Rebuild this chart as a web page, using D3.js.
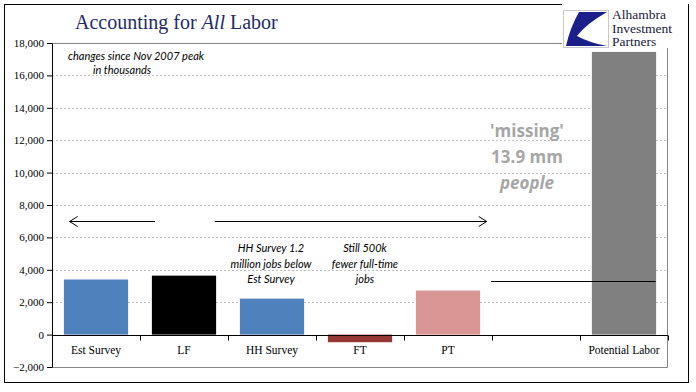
<!DOCTYPE html>
<html>
<head>
<meta charset="utf-8">
<script src="https://cdn.jsdelivr.net/npm/d3@7"></script>
<style>
  body { margin: 0; background: #fff; }
  svg text { font-family: "Liberation Serif", serif; }
  .note { font-family: Lato, "Open Sans", sans-serif; font-style: italic; font-size: 11px; fill: #000; }
  .missing { font-family: "Open Sans", Lato, sans-serif; font-weight: bold; font-size: 17px; fill: #a6a6a6; }
</style>
</head>
<body>
<div id="chart-area"></div>
<script>
const categories = ['Est Survey', 'LF', 'HH Survey', 'FT', 'PT', '', 'Potential Labor'];
const values = [3400, 3640, 2220, -470, 2720, null, 17450];
const colors = ['#4f81bd', '#000000', '#4f81bd', '#953735', '#d99694', '#fff', '#808080'];
const yTicks = [-2000, 0, 2000, 4000, 6000, 8000, 10000, 12000, 14000, 16000, 18000];
const missingLevel = 3300;
const arrowLevel = 7000;

const chartSize = { width: 696, height: 392 };
const margin = { left: 52, right: 28, top: 43, bottom: 25 };
const width = chartSize.width - (margin.left + margin.right);
const height = chartSize.height - (margin.top + margin.bottom);

const svg = d3.select('#chart-area').append('svg')
  .attr('width', chartSize.width)
  .attr('height', chartSize.height);

svg.append('rect')
  .attr('x', 4.5).attr('y', 4.5)
  .attr('width', 684).attr('height', 378)
  .attr('fill', 'none').attr('stroke', '#000');

const g = svg.append('g').attr('transform', `translate(${margin.left},${margin.top})`);

const y = d3.scaleLinear().domain([-2000, 18000]).range([height, 0]);
const x = d3.scaleBand().domain(categories).range([0, width])
  .paddingInner(0.27).paddingOuter(0.135);
const xi = d3.scaleLinear().domain([0, categories.length]).range([0, width]);

// gridlines
g.selectAll('.grid').data(yTicks.filter(t => t > -2000 && t < 18000 && t !== 0)).enter()
  .append('line')
  .attr('x1', 0).attr('x2', width)
  .attr('y1', d => Math.round(y(d)) + 0.5).attr('y2', d => Math.round(y(d)) + 0.5)
  .attr('stroke', '#c0c0c0').attr('stroke-dasharray', '2,2');

// plot border (top, right, bottom)
g.append('path')
  .attr('d', `M0,${Math.round(y(18000)) + 0.5}H${width - 0.5}V${Math.round(y(-2000)) + 0.5}H0`)
  .attr('fill', 'none').attr('stroke', '#868686');

// bars
g.selectAll('.bar').data(categories.map((c, i) => ({ c, v: values[i], col: colors[i] })).filter(d => d.v !== null))
  .enter().append('rect')
  .attr('x', d => x(d.c))
  .attr('width', x.bandwidth())
  .attr('y', d => y(Math.max(0, d.v)))
  .attr('height', d => Math.abs(y(d.v) - y(0)))
  .attr('fill', d => d.col);

// y axis
const yAxis = d3.axisLeft(y).tickValues(yTicks).tickSize(5).tickSizeOuter(0)
  .tickFormat(d3.format(','));
const ya = g.append('g').call(yAxis);
ya.select('.domain').attr('stroke', '#000');
ya.selectAll('text').attr('font-family', '"Liberation Serif", serif').attr('font-size', 11).attr('fill', '#000').attr('x', -8);
ya.selectAll('.tick line').attr('stroke', '#000');

// x axis at zero
const xa = g.append('g').attr('transform', `translate(0,${Math.round(y(0)) + 0.5})`);
xa.append('line').attr('x1', 0).attr('x2', width).attr('stroke', '#000');
xa.selectAll('.tk').data(d3.range(1, categories.length + 1)).enter().append('line')
  .attr('x1', d => Math.round(xi(d)) + 0.5).attr('x2', d => Math.round(xi(d)) + 0.5)
  .attr('y1', 0).attr('y2', 5).attr('stroke', '#000');
xa.selectAll('.lbl').data(categories).enter().append('text')
  .attr('x', d => x(d) + x.bandwidth() / 2)
  .attr('y', 18)
  .attr('text-anchor', 'middle')
  .attr('font-size', 11.5)
  .text(d => d);

// arrows
const arrow = (x1, x2, v, dir) => {
  const yy = Math.round(y(v)) + 0.5;
  g.append('line').attr('x1', xi(x1)).attr('x2', xi(x2)).attr('y1', yy).attr('y2', yy).attr('stroke', '#000');
  const tip = dir < 0 ? xi(x1) : xi(x2);
  g.append('path')
    .attr('d', `M${tip - dir * 8},${yy - 5}L${tip},${yy}L${tip - dir * 8},${yy + 5}`)
    .attr('fill', 'none').attr('stroke', '#000');
};
arrow(0.2, 1.17, arrowLevel, -1);
arrow(1.85, 4.94, arrowLevel, 1);

// missing baseline
g.append('line')
  .attr('x1', xi(4.99)).attr('x2', xi(6.86))
  .attr('y1', Math.round(y(missingLevel)) + 0.5).attr('y2', Math.round(y(missingLevel)) + 0.5)
  .attr('stroke', '#000');

// notes
const note = (lines, cx, y0, cls, dy) => {
  lines.forEach((t, i) => {
    svg.append('text').attr('class', cls).attr('x', cx).attr('y', y0 + i * dy)
      .attr('text-anchor', 'middle').text(t);
  });
};
svg.append('text').attr('class', 'note').attr('x', 68).attr('y', 60).attr('font-size', 10.5).text('changes since Nov 2007 peak');
svg.append('text').attr('class', 'note').attr('x', 93).attr('y', 74).attr('font-size', 10.5).text('in thousands');
note(['HH Survey 1.2', 'million jobs below', 'Est Survey'], 271, 252, 'note', 15.5);
note(['Still 500k', 'fewer full-time', 'jobs'], 365, 252, 'note', 15.5);
svg.append('text').attr('class', 'missing').attr('x', 527).attr('y', 137).attr('text-anchor', 'middle').text("'missing'");
svg.append('text').attr('class', 'missing').attr('x', 527).attr('y', 163).attr('text-anchor', 'middle').text('13.9 mm');
svg.append('text').attr('class', 'missing').attr('x', 527).attr('y', 189).attr('text-anchor', 'middle')
  .attr('font-style', 'italic').text('people');

// title
const title = svg.append('text').attr('x', 75).attr('y', 29)
  .attr('font-size', 20).attr('fill', '#1f2a6b');
title.append('tspan').text('Accounting for ');
title.append('tspan').attr('font-style', 'italic').text('All');
title.append('tspan').text(' Labor');

// logo
const logo = svg.append('g');
logo.append('rect').attr('x', 562).attr('y', 3).attr('width', 126).attr('height', 45).attr('fill', '#fff');
logo.append('rect').attr('x', 563.5).attr('y', 10.5).attr('width', 45).attr('height', 37)
  .attr('fill', '#fff').attr('stroke', '#c8c8c8');
logo.append('path')
  .attr('d', 'M579,12 L607,12 Q586,24 577,36 Q590,43 607,46 L566,46 Q570,28 579,12 Z')
  .attr('fill', '#1b1f8a');
['Alhambra', 'Investment', 'Partners'].forEach((t, i) => {
  logo.append('text').attr('x', 612).attr('y', 19 + i * 13.5)
    .attr('font-size', 13.5).attr('fill', '#1a1a3a').text(t);
});
</script>
</body>
</html>
